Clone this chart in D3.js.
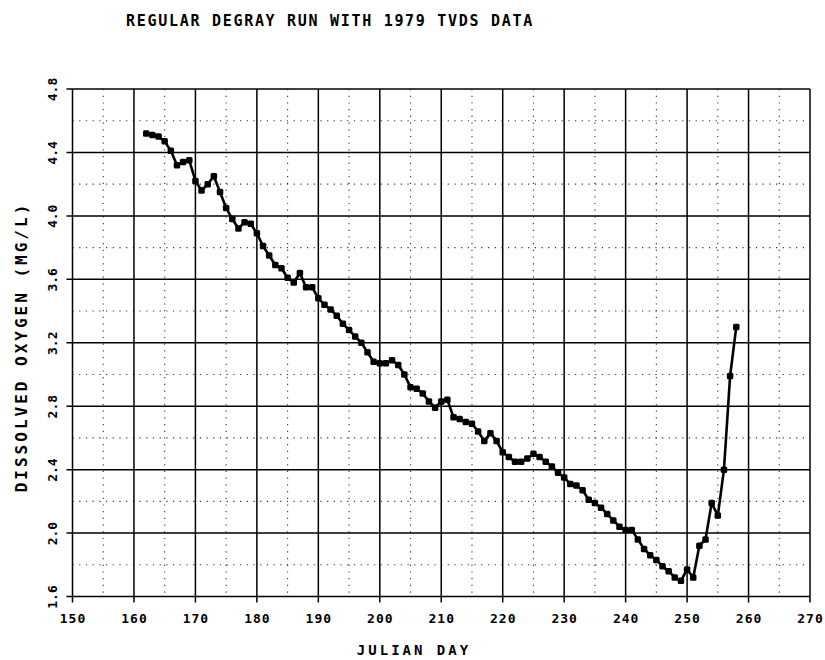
<!DOCTYPE html>
<html>
<head>
<meta charset="utf-8">
<script src="https://cdn.jsdelivr.net/npm/d3@7/dist/d3.min.js"></script>
<style>
  body { margin: 0; background: #fff; }
  text { font-family: "DejaVu Sans Mono", "Liberation Mono", monospace; font-weight: bold; fill: #000; }
</style>
</head>
<body>
<svg id="chart" width="825" height="660"></svg>
<script>
// Julian day of each simulated value
const days = [
  162,163,164,165,166,167,168,169,170,171,172,173,174,175,176,177,178,179,180,181,
  182,183,184,185,186,187,188,189,190,191,192,193,194,195,196,197,198,199,200,201,
  202,203,204,205,206,207,208,209,210,211,212,213,214,215,216,217,218,219,220,221,
  222,223,224,225,226,227,228,229,230,231,232,233,234,235,236,237,238,239,240,241,
  242,243,244,245,246,247,248,249,250,251,252,253,254,255,256,257,258
];
// Dissolved oxygen, mg/L
const dissolvedOxygen = [
  4.52,4.51,4.50,4.47,4.41,4.32,4.34,4.35,4.22,4.16,4.20,4.25,4.15,4.05,3.98,3.92,3.96,3.95,3.89,3.81,
  3.75,3.69,3.67,3.61,3.58,3.64,3.55,3.55,3.48,3.44,3.41,3.37,3.32,3.28,3.24,3.20,3.14,3.08,3.07,3.07,
  3.09,3.06,3.00,2.92,2.91,2.88,2.83,2.79,2.83,2.84,2.73,2.72,2.70,2.69,2.64,2.58,2.63,2.58,2.51,2.48,
  2.45,2.45,2.47,2.50,2.48,2.45,2.42,2.38,2.35,2.31,2.30,2.27,2.21,2.19,2.16,2.12,2.08,2.04,2.02,2.02,
  1.96,1.90,1.86,1.83,1.79,1.76,1.72,1.70,1.77,1.72,1.92,1.96,2.19,2.11,2.40,2.99,3.30
];

const xTicks = [150,160,170,180,190,200,210,220,230,240,250,260,270];
const xMinorTicks = [155,165,175,185,195,205,215,225,235,245,255,265];
const yTicks = [1.6,2.0,2.4,2.8,3.2,3.6,4.0,4.4,4.8];
const yMinorTicks = [1.8,2.2,2.6,3.0,3.4,3.8,4.2,4.6];
const yTickLabels = ["1.6","2.0","2.4","2.8","3.2","3.6","4.0","4.4","4.8"];

const titleText = "REGULAR DEGRAY RUN WITH 1979 TVDS DATA";
const xTitle = "JULIAN DAY";
const yTitle = "DISSOLVED OXYGEN (MG/L)";

const plot = { left: 72.5, right: 810, top: 89, bottom: 596.5 };

const svg = d3.select("#chart");

const x = d3.scaleLinear().domain([150, 270]).range([plot.left, plot.right]);
const y = d3.scaleLinear().domain([1.6, 4.8]).range([plot.bottom, plot.top]);

// dotted minor grid
const grid = svg.append("g");
grid.selectAll("line.vminor").data(xMinorTicks).join("line")
  .attr("x1", d => x(d)).attr("x2", d => x(d))
  .attr("y1", plot.top).attr("y2", plot.bottom)
  .attr("stroke", "#333").attr("stroke-width", 1.1)
  .attr("stroke-dasharray", "1.2,5.5");
grid.selectAll("line.hminor").data(yMinorTicks).join("line")
  .attr("x1", plot.left).attr("x2", plot.right)
  .attr("y1", d => y(d)).attr("y2", d => y(d))
  .attr("stroke", "#333").attr("stroke-width", 1.1)
  .attr("stroke-dasharray", "1.2,5.5");

// solid major grid, extending past the axes as tick marks
grid.selectAll("line.vmajor").data(xTicks).join("line")
  .attr("x1", d => x(d)).attr("x2", d => x(d))
  .attr("y1", plot.top).attr("y2", plot.bottom + 6)
  .attr("stroke", "#000").attr("stroke-width", 1.5);
grid.selectAll("line.hmajor").data(yTicks).join("line")
  .attr("x1", plot.left - 6).attr("x2", plot.right)
  .attr("y1", d => y(d)).attr("y2", d => y(d))
  .attr("stroke", "#000").attr("stroke-width", 1.5);

// bottom axis labels
const xAxis = d3.axisBottom(x).tickValues(xTicks).tickFormat(d3.format("d")).tickSize(0).tickPadding(0);
const gx = svg.append("g").attr("transform", `translate(0,${plot.bottom})`).call(xAxis);
gx.select(".domain").remove();
gx.selectAll("text")
  .attr("dy", null).attr("y", 26)
  .style("font-size", "13px").style("letter-spacing", "1px")
  .style("font-family", "DejaVu Sans Mono").style("font-weight", "bold");

// left axis labels, rotated
const yAxis = d3.axisLeft(y).tickValues(yTicks).tickFormat((d, i) => yTickLabels[i]).tickSize(0).tickPadding(0);
const gy = svg.append("g").attr("transform", `translate(${plot.left},0)`).call(yAxis);
gy.select(".domain").remove();
gy.selectAll("text")
  .attr("x", null).attr("dy", null)
  .attr("text-anchor", "middle")
  .attr("dominant-baseline", "central")
  .attr("transform", "translate(-20,0) rotate(-90)")
  .style("font-size", "13px")
  .style("font-family", "DejaVu Sans Mono").style("font-weight", "bold");

// data line with square markers
const pts = days.map((d, i) => [d, dissolvedOxygen[i]]);
svg.append("path")
  .datum(pts)
  .attr("fill", "none")
  .attr("stroke", "#000")
  .attr("stroke-width", 2.6)
  .attr("stroke-linejoin", "round")
  .attr("d", d3.line().x(d => x(d[0])).y(d => y(d[1])));
const m = 6.5;
svg.append("g").selectAll("rect").data(pts).join("rect")
  .attr("x", d => x(d[0]) - m / 2).attr("y", d => y(d[1]) - m / 2)
  .attr("width", m).attr("height", m)
  .attr("rx", 1.5)
  .attr("fill", "#000");

// titles
svg.append("text")
  .attr("x", 330).attr("y", 26)
  .attr("text-anchor", "middle")
  .style("font-size", "15px").style("letter-spacing", "1.7px")
  .text(titleText);

svg.append("text")
  .attr("x", 414).attr("y", 655)
  .attr("text-anchor", "middle")
  .style("font-size", "14px").style("letter-spacing", "3px")
  .text(xTitle);

svg.append("text")
  .attr("transform", "translate(27,347) rotate(-90)")
  .attr("text-anchor", "middle")
  .style("font-size", "16px").style("letter-spacing", "3px")
  .text(yTitle);
</script>
</body>
</html>
